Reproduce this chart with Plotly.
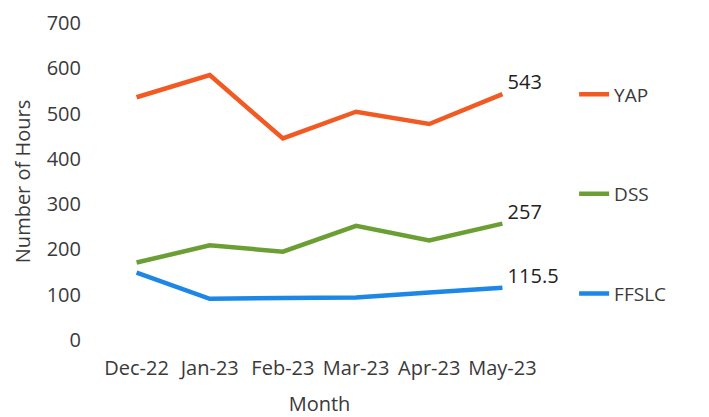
import plotly.graph_objects as go

months = ["Dec-22", "Jan-23", "Feb-23", "Mar-23", "Apr-23", "May-23"]
yap = [536, 585, 445, 504, 477, 543]
dss = [171, 209, 195, 252, 220, 257]
ffslc = [149, 91, 93, 94, 105, 115.5]
y_ticks = [0, 100, 200, 300, 400, 500, 600, 700]

series = [("YAP", yap, "#F25A24"), ("DSS", dss, "#6C9F33"), ("FFSLC", ffslc, "#1C87E6")]

FONT = "Open Sans, sans-serif"
TXT = "#3a3a3a"
fig = go.Figure()
for i, (name, vals, col) in enumerate(series):
    last = vals[-1]
    labels = [""] * (len(vals) - 1) + [f" {last:g}"]
    fig.add_trace(go.Scatter(
        x=months, y=vals, name=name, mode="lines+text",
        line=dict(color=col, width=4.5),
        text=labels, textposition="top right",
        textfont=dict(size=20, color="#222222", family=FONT),
        legendgroup=name, cliponaxis=False,
    ))

# page body has an 8px margin, so the figure is drawn 8px smaller
fig.update_layout(
    width=701, height=409,
    margin=dict(l=92, r=170, t=15, b=77, autoexpand=False),
    paper_bgcolor="white", plot_bgcolor="white",
    font=dict(family=FONT, size=18, color=TXT),
    showlegend=True,
    legend=dict(x=1.08, xanchor="left", y=0.835, yanchor="top",
                tracegroupgap=72, font=dict(size=19, color=TXT),
                bgcolor="rgba(0,0,0,0)"),
    xaxis=dict(title=dict(text="Month", font=dict(size=20), standoff=18),
               showgrid=False, zeroline=False, showline=False,
               range=[-0.5, 5.5], tickfont=dict(size=20), automargin=False,
               ticklabelstandoff=14, ticklabeloverflow="allow"),
    yaxis=dict(title=dict(text="Number of Hours", font=dict(size=20), standoff=10),
               range=[0, 700], tickvals=y_ticks, showgrid=False,
               zeroline=False, showline=False, tickfont=dict(size=20), automargin=False,
               ticklabelstandoff=18, ticklabeloverflow="allow"),
)
fig.write_html("out.html")
